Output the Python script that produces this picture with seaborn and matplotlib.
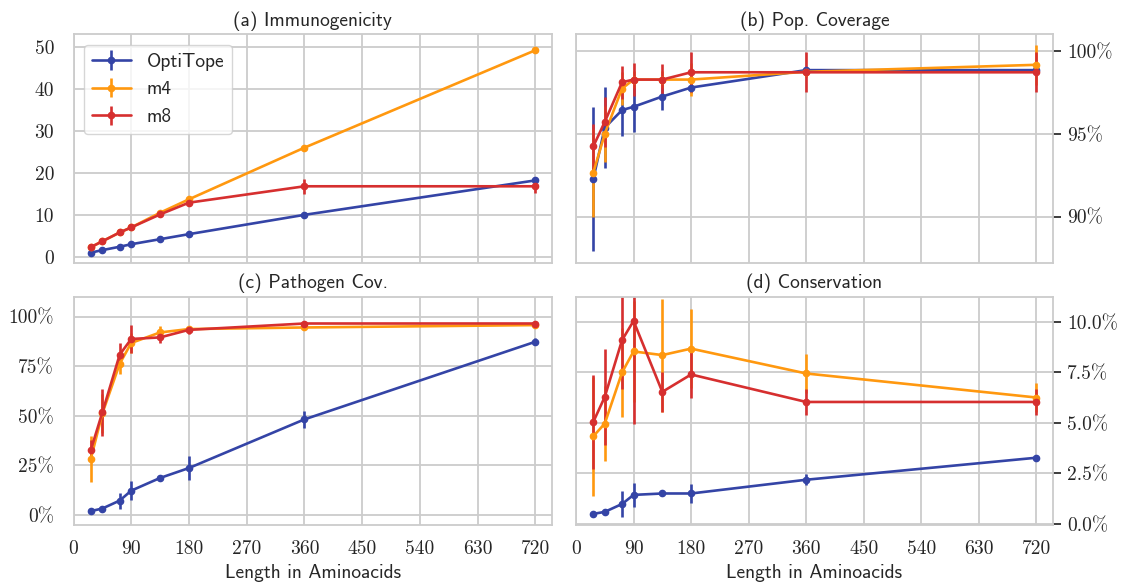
import matplotlib
matplotlib.use("Agg")
import matplotlib.pyplot as plt
import seaborn as sns
import numpy as np
from matplotlib.ticker import FixedLocator, FuncFormatter

# ---------------- data ----------------
lengths = [27, 45, 72, 90, 135, 180, 360, 720]
methods = ["OptiTope", "m4", "m8"]

immuno_opti = [1.0, 1.6, 2.4, 3.0, 4.2, 5.4, 10.0, 18.2]
immuno_opti_err = [0.1, 0.1, 0.1, 0.1, 0.1, 0.1, 0.2, 0.3]
immuno_m4 = [2.3, 3.7, 5.8, 7.0, 10.5, 13.7, 26.0, 49.2]
immuno_m4_err = [0.2, 0.2, 0.2, 0.2, 0.2, 0.3, 0.3, 0.4]
immuno_m8 = [2.3, 3.7, 5.8, 7.0, 10.1, 12.9, 16.8, 16.8]
immuno_m8_err = [0.2, 0.2, 0.2, 0.2, 0.3, 0.4, 1.8, 1.5]

pop_opti = [92.27, 95.37, 96.43, 96.63, 97.25, 97.79, 98.84, 98.84]
pop_opti_err = [4.35, 2.46, 1.55, 1.5, 0.8, 0.35, 0.2, 0.2]
pop_m4 = [92.65, 95.0, 97.73, 98.27, 98.27, 98.27, 98.74, 99.16]
pop_m4_err = [2.65, 1.7, 1.0, 0.5, 0.5, 1.0, 0.3, 1.2]
pop_m8 = [94.24, 95.72, 98.11, 98.27, 98.27, 98.71, 98.71, 98.71]
pop_m8_err = [1.38, 1.5, 1.0, 1.0, 0.95, 1.2, 1.2, 1.2]

path_opti = [2.0, 3.3, 7.3, 12.3, 18.7, 23.7, 48.2, 87.3]
path_opti_err = [0.5, 0.5, 4.0, 4.7, 0.6, 6.2, 4.4, 1.7]
path_m4 = [28.3, 51.2, 76.2, 86.7, 92.0, 93.7, 94.5, 95.7]
path_m4_err = [11.7, 10.0, 5.0, 5.0, 3.0, 1.5, 0.5, 0.5]
path_m8 = [32.8, 51.7, 80.8, 88.7, 89.5, 93.3, 96.5, 96.5]
path_m8_err = [5.0, 12.0, 6.0, 7.0, 3.0, 2.0, 0.5, 0.5]

cons_opti = [0.50, 0.60, 0.99, 1.44, 1.51, 1.51, 2.19, 3.28]
cons_opti_err = [0.05, 0.05, 0.66, 0.6, 0.05, 0.45, 0.28, 0.05]
cons_m4 = [4.34, 4.97, 7.50, 8.54, 8.36, 8.68, 7.45, 6.26]
cons_m4_err = [2.93, 1.86, 2.2, 2.5, 2.8, 1.97, 0.95, 0.7]
cons_m8 = [5.05, 6.29, 9.10, 10.05, 6.54, 7.40, 6.04, 6.04]
cons_m8_err = [2.31, 2.38, 2.4, 5.08, 1.0, 1.15, 0.63, 0.63]

titles = ["(a) Immunogenicity", "(b) Pop. Coverage", "(c) Pathogen Cov.", "(d) Conservation"]
x_ticks = [0, 90, 180, 270, 360, 450, 540, 630, 720]
xlabel = "Length in Aminoacids"

colors = ["#3444a6", "#ff980f", "#d62f2f"]

# ---------------- style ----------------
sns.set_theme(style="whitegrid")
plt.rcParams["font.family"] = ["cmss10", "DejaVu Sans"]
plt.rcParams["axes.edgecolor"] = "#cccccc"
plt.rcParams["grid.color"] = "#cccccc"
plt.rcParams["axes.linewidth"] = 1.3
plt.rcParams["grid.linewidth"] = 1.3
plt.rcParams["axes.unicode_minus"] = False

SERIF = ["cmr10", "DejaVu Serif"]
FS = 14

fig = plt.figure(figsize=(11.26, 5.86), dpi=100)
W, H = 1126, 586
def box(l, t, r, b):
    return [l / W, 1 - b / H, (r - l) / W, (b - t) / H]

ax_a = fig.add_axes(box(73.5, 34.3, 552, 262.7))
ax_b = fig.add_axes(box(576, 34.3, 1053, 262.7))
ax_c = fig.add_axes(box(73.5, 296.7, 552, 525))
ax_d = fig.add_axes(box(576, 296.7, 1053, 525))

panels = [
    (ax_a, [immuno_opti, immuno_m4, immuno_m8], [immuno_opti_err, immuno_m4_err, immuno_m8_err]),
    (ax_b, [pop_opti, pop_m4, pop_m8], [pop_opti_err, pop_m4_err, pop_m8_err]),
    (ax_c, [path_opti, path_m4, path_m8], [path_opti_err, path_m4_err, path_m8_err]),
    (ax_d, [cons_opti, cons_m4, cons_m8], [cons_opti_err, cons_m4_err, cons_m8_err]),
]

for i, (ax, ys, es) in enumerate(panels):
    for name, y, e, c in zip(methods, ys, es, colors):
        ax.errorbar(lengths, y, yerr=e, fmt="o-", color=c, lw=1.9, ms=4.5,
                    elinewidth=1.9, capsize=0, label=name)
    ax.set_title(titles[i], fontsize=FS, pad=6)
    ax.set_xlim(0, 746)
    ax.xaxis.set_major_locator(FixedLocator(x_ticks))
    for s in ax.spines.values():
        s.set_color("#cccccc")
        s.set_linewidth(1.3)

for ax in (ax_a, ax_b):
    ax.tick_params(axis="x", labelbottom=False)
for ax in (ax_c, ax_d):
    ax.set_xlabel(xlabel, fontsize=FS, labelpad=4)
    ax.set_xticklabels([str(t) for t in x_ticks], fontfamily=SERIF, fontsize=FS)
    ax.tick_params(axis="x", pad=5)

# (a)
ax_a.set_ylim(-1.4, 53)
ax_a.yaxis.set_major_locator(FixedLocator([0, 10, 20, 30, 40, 50]))
ax_a.yaxis.set_major_formatter(FuncFormatter(lambda v, p: "%d" % v))
# (b)
ax_b.set_ylim(87.23, 101.0)
ax_b.yaxis.set_major_locator(FixedLocator([90, 95, 100]))
ax_b.yaxis.set_major_formatter(FuncFormatter(lambda v, p: "%d%%" % v))
# (c)
ax_c.set_ylim(-5, 110)
ax_c.yaxis.set_major_locator(FixedLocator([0, 25, 50, 75, 100]))
ax_c.yaxis.set_major_formatter(FuncFormatter(lambda v, p: "%d%%" % v))
# (d)
ax_d.set_ylim(-0.05, 11.25)
ax_d.yaxis.set_major_locator(FixedLocator([0, 2.5, 5, 7.5, 10]))
ax_d.yaxis.set_major_formatter(FuncFormatter(lambda v, p: "%.1f%%" % v))

for ax in (ax_b, ax_d):
    ax.yaxis.tick_right()
    ax.tick_params(axis="y", right=True, left=False, length=6, width=1.25,
                   color="#262626", pad=4)

for ax in (ax_a, ax_b, ax_c, ax_d):
    for lab in ax.get_yticklabels():
        lab.set_fontfamily(SERIF)
        lab.set_fontsize(FS)
    ax.tick_params(axis="y", labelsize=FS)
ax_a.tick_params(axis="y", pad=8)
ax_c.tick_params(axis="y", pad=8)

leg = ax_a.legend(loc="upper left", fontsize=FS, frameon=True, handlelength=2.0,
                  borderaxespad=0.55)
leg.get_frame().set_edgecolor("#cccccc")

fig.savefig("out.png", dpi=100)
